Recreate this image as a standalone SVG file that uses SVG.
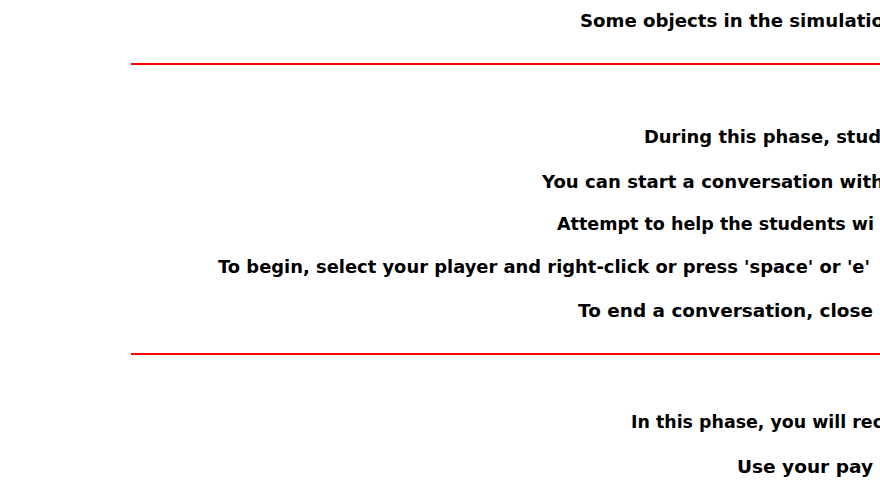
<svg xmlns="http://www.w3.org/2000/svg" width="880" height="500" viewBox="0 0 880 500">
<style>
.t{font-family:"DejaVu Sans","Liberation Sans",sans-serif;font-weight:bold;font-size:18.4px;fill:#000}
.r{stroke:#ff0000;stroke-width:2}
</style>
<rect width="880" height="500" fill="#fff"/>
<g id="separators">
<line class="r" x1="131" y1="64" x2="880" y2="64"/>
<line class="r" x1="131" y1="354" x2="880" y2="354"/>
</g>
<g id="texts">
<text class="t" x="580" y="27" textLength="304" lengthAdjust="spacingAndGlyphs">Some objects in the simulatio</text>
<text class="t" x="644" y="143" textLength="237" lengthAdjust="spacingAndGlyphs">During this phase, stud</text>
<text class="t" x="542" y="188" textLength="342" lengthAdjust="spacingAndGlyphs">You can start a conversation with</text>
<text class="t" x="557" y="230" textLength="317" lengthAdjust="spacingAndGlyphs">Attempt to help the students wi</text>
<text class="t" x="218" y="272.5" textLength="652" lengthAdjust="spacingAndGlyphs">To begin, select your player and right-click or press 'space' or 'e'</text>
<text class="t" x="578" y="317" textLength="295" lengthAdjust="spacingAndGlyphs">To end a conversation, close</text>
<text class="t" x="631" y="428" textLength="252" lengthAdjust="spacingAndGlyphs">In this phase, you will rec</text>
<text class="t" x="737" y="473" textLength="136" lengthAdjust="spacingAndGlyphs">Use your pay</text>
</g>
</svg>
